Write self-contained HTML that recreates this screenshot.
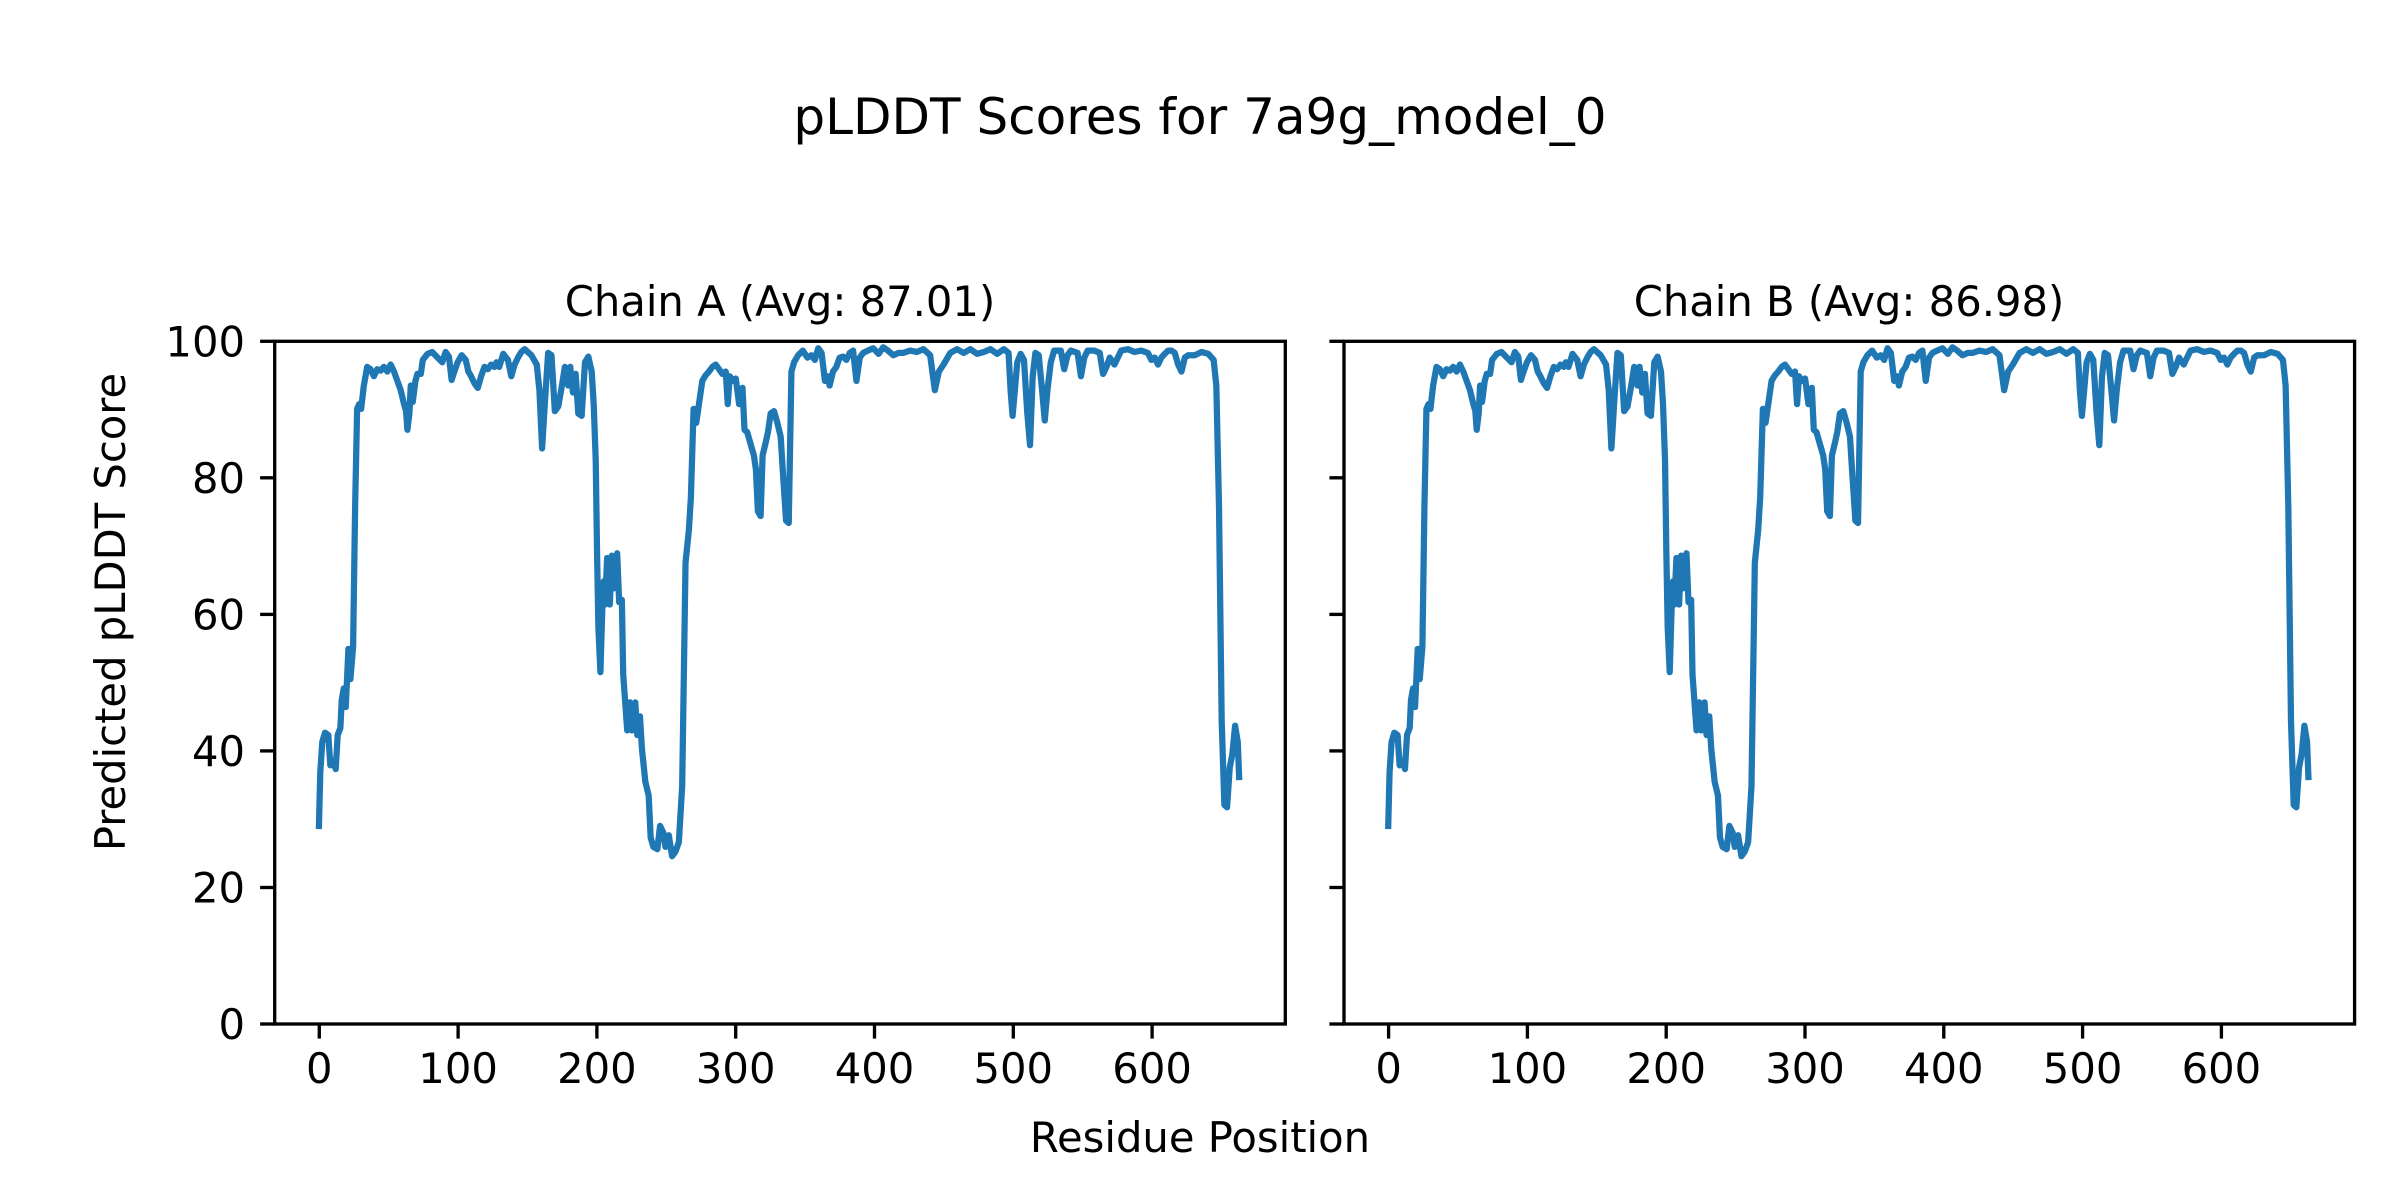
<!DOCTYPE html>
<html><head><meta charset="utf-8"><style>
html,body{margin:0;padding:0;background:#fff;}
svg{display:block;}
text{font-family:"DejaVu Sans","Liberation Sans",sans-serif;fill:#000;}
</style></head><body>
<svg width="2400" height="1200" viewBox="0 0 2400 1200" xmlns="http://www.w3.org/2000/svg">
<defs>
<path id="d" fill="none" stroke="#1f77b4" stroke-width="6.25" stroke-linejoin="round" stroke-linecap="square" vector-effect="non-scaling-stroke" d="M103,1085 L105,970 L108,905 L112,885 L117,890 L120,955 L124,945 L128,963 L131,890 L135,875 L137,815 L140,790 L143,830 L147,705 L150,770 L154,700 L157,400 L160,190 L163,180 L166,190 L170,140 L175,100 L180,105 L185,120 L190,105 L195,108 L200,100 L205,110 L210,95 L215,110 L220,130 L225,150 L230,180 L233,195 L235,235 L238,200 L240,140 L243,175 L247,130 L250,115 L255,115 L258,85 L265,72 L272,68 L280,80 L287,90 L292,68 L297,78 L301,128 L305,110 L310,90 L316,75 L322,85 L326,110 L330,120 L335,135 L340,145 L345,120 L350,100 L355,105 L360,95 L365,100 L368,90 L372,100 L378,72 L385,85 L390,120 L395,95 L400,80 L405,68 L410,62 L420,75 L428,95 L432,150 L436,275 L440,180 L445,70 L450,75 L455,195 L460,185 L465,145 L470,100 L475,140 L478,100 L482,155 L486,115 L490,200 L495,205 L500,90 L505,78 L510,110 L513,180 L516,300 L518,500 L520,660 L523,755 L526,610 L528,560 L530,610 L533,510 L537,610 L540,505 L543,575 L548,500 L551,605 L555,600 L557,760 L560,820 L563,880 L567,820 L570,880 L575,820 L578,890 L582,850 L585,920 L590,990 L595,1020 L598,1110 L602,1130 L608,1135 L612,1085 L617,1100 L620,1130 L625,1105 L630,1150 L635,1140 L640,1120 L645,1000 L650,520 L655,450 L658,380 L662,190 L666,220 L670,180 L675,130 L680,118 L685,110 L690,100 L695,95 L700,105 L705,115 L710,110 L713,180 L716,120 L720,130 L725,125 L730,180 L735,145 L738,235 L742,240 L748,270 L752,290 L755,320 L758,410 L762,420 L765,290 L770,260 L773,240 L777,200 L782,195 L787,220 L792,250 L795,320 L800,430 L804,435 L808,110 L812,90 L818,75 L825,65 L832,80 L838,75 L843,85 L848,60 L853,70 L858,130 L862,120 L865,140 L870,110 L875,100 L880,80 L885,78 L890,85 L895,70 L900,65 L905,130 L910,80 L915,70 L922,65 L930,60 L938,72 L945,58 L952,65 L960,75 L968,70 L975,70 L985,65 L995,68 L1005,62 L1015,75 L1022,150 L1028,110 L1035,95 L1045,70 L1055,62 L1065,70 L1075,62 L1085,72 L1095,68 L1105,62 L1115,72 L1125,62 L1132,70 L1135,150 L1138,205 L1142,140 L1145,90 L1150,72 L1155,85 L1160,200 L1164,268 L1168,120 L1172,70 L1177,75 L1182,150 L1186,215 L1190,150 L1195,90 L1200,65 L1210,65 L1215,105 L1220,75 L1225,65 L1235,70 L1240,120 L1245,80 L1250,65 L1260,65 L1268,70 L1273,115 L1278,100 L1283,80 L1290,95 L1295,80 L1300,65 L1310,62 L1320,68 L1330,65 L1340,70 L1345,85 L1350,80 L1355,95 L1360,80 L1365,72 L1370,65 L1375,65 L1380,70 L1385,95 L1390,110 L1395,80 L1400,75 L1410,75 L1420,68 L1430,72 L1438,85 L1442,140 L1446,400 L1450,860 L1454,1040 L1458,1045 L1462,960 L1466,930 L1470,870 L1474,905 L1476,980"/>
<g id="xt" stroke="#000" stroke-width="3.33">
<line x1="319.3" y1="1024" x2="319.3" y2="1038.6"/>
<line x1="458.1" y1="1024" x2="458.1" y2="1038.6"/>
<line x1="596.9" y1="1024" x2="596.9" y2="1038.6"/>
<line x1="735.7" y1="1024" x2="735.7" y2="1038.6"/>
<line x1="874.5" y1="1024" x2="874.5" y2="1038.6"/>
<line x1="1013.3" y1="1024" x2="1013.3" y2="1038.6"/>
<line x1="1152.1" y1="1024" x2="1152.1" y2="1038.6"/>
<line x1="274.7" y1="1024" x2="260.1" y2="1024"/>
<line x1="274.7" y1="887.5" x2="260.1" y2="887.5"/>
<line x1="274.7" y1="750.9" x2="260.1" y2="750.9"/>
<line x1="274.7" y1="614.4" x2="260.1" y2="614.4"/>
<line x1="274.7" y1="477.8" x2="260.1" y2="477.8"/>
<line x1="274.7" y1="341.3" x2="260.1" y2="341.3"/>
</g>
<g id="xl" font-size="41.7" text-anchor="middle">
<text x="319.3" y="1083">0</text>
<text x="458.1" y="1083">100</text>
<text x="596.9" y="1083">200</text>
<text x="735.7" y="1083">300</text>
<text x="874.5" y="1083">400</text>
<text x="1013.3" y="1083">500</text>
<text x="1152.1" y="1083">600</text>
</g>
</defs>

<text x="1200" y="134" font-size="50" text-anchor="middle">pLDDT Scores for 7a9g_model_0</text>

<!-- Left axes -->
<use href="#d" transform="matrix(0.6702,0,0,0.466,249.9,320.3)"/>
<rect x="274.7" y="341.3" width="1010.6" height="682.7" fill="none" stroke="#000" stroke-width="3.33"/>
<use href="#xt"/>
<use href="#xl"/>
<g font-size="41.7" text-anchor="end">
<text x="245" y="1039">0</text>
<text x="245" y="902.5">20</text>
<text x="245" y="765.9">40</text>
<text x="245" y="629.4">60</text>
<text x="245" y="492.8">80</text>
<text x="245" y="356.3">100</text>
</g>
<text x="780" y="316" font-size="41.7" text-anchor="middle">Chain A (Avg: 87.01)</text>

<!-- Right axes -->
<use href="#d" transform="matrix(0.6702,0,0,0.466,1319.2,320.3)"/>
<rect x="1344" y="341.3" width="1010.6" height="682.7" fill="none" stroke="#000" stroke-width="3.33"/>
<use href="#xt" transform="translate(1069.3,0)"/>
<use href="#xl" transform="translate(1069.3,0)"/>
<text x="1849" y="316" font-size="41.7" text-anchor="middle">Chain B (Avg: 86.98)</text>

<text x="1200" y="1152" font-size="41.7" text-anchor="middle">Residue Position</text>
<text x="0" y="0" font-size="41.7" text-anchor="middle" transform="translate(125,612) rotate(-90)">Predicted pLDDT Score</text>
</svg>
</body></html>
